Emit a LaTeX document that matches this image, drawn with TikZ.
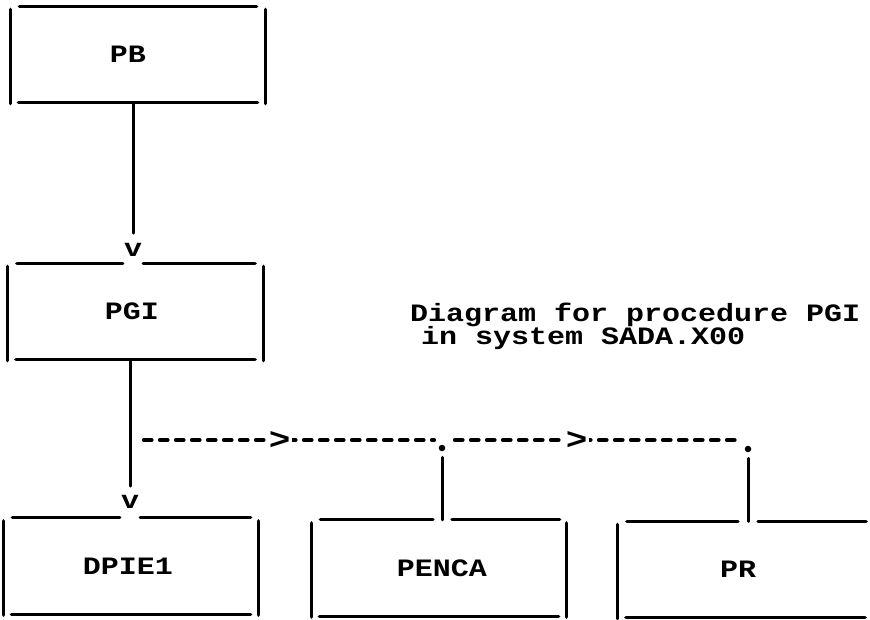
\documentclass[tikz,border=0pt]{standalone}
\usepackage{fontspec}
\newfontfamily\sadafont[FakeStretch=1.2]{Liberation Mono}
\begin{document}
\begin{tikzpicture}[x=1pt,y=-1pt,
  txt/.style={font={\sadafont\bfseries\fontsize{25pt}{20pt}\selectfont}, inner sep=0pt},
  sadabox/.style={txt, minimum width=255pt, minimum height=96pt},
  boxline/.style={line width=3.2pt, line cap=round},
  link/.style={line width=3pt, line cap=round},
  dashlink/.style={line width=4.2pt, line cap=round, dash pattern=on 7.5pt off 8.5pt},
  chev/.style={font={\sadafont\bfseries\fontsize{30pt}{30pt}\selectfont}, inner sep=0pt, fill=white, inner xsep=1.5pt},
  junction/.style={circle, fill=black, inner sep=0pt, minimum size=6.5pt}
]
\useasboundingbox[fill=white] (0,0) rectangle (870,619);

% boxes (labels nudged as in the printout)
\node[sadabox] (pb)    at (138,54.5)   {PB\kern20pt};
\node[sadabox] (pgi)   at (135.5,311.5) {PGI\kern7pt};
\node[sadabox] (dpie)  at (131,566)    {DPIE1\kern6pt};
\node[sadabox] (penca) at (439,568)    {\kern6pt PENCA};
\node[sadabox] (pr)    at (745.5,569.5) {PR\kern15pt};

% arrow marks and junction dots
\node[txt] (v1) at (133,250) {v};
\node[txt] (v2) at (130,502) {v};
\node[junction] (d1) at (442,448) {};
\node[junction] (d2) at (748,449) {};
\coordinate (j0) at (130,440);

% title
\node[txt, anchor=base west] (t1) at (410,321) {Diagram for procedure PGI};
\node[txt, anchor=base west] (t2) at (421,344) {in system SADA.X00};

% box sides and bottoms
\foreach \n in {pb,pgi,dpie,penca,pr}{
  \draw[boxline] ([yshift=-3pt]\n.north west) -- ([yshift=-1pt]\n.south west);
  \draw[boxline] ([yshift=-3pt]\n.north east) -- ([yshift=-1pt]\n.south east);
  \draw[boxline] ([xshift=8pt]\n.south west) -- ([xshift=-8pt]\n.south east);
}
% box tops
\draw[boxline] ([xshift=9pt]pb.north west) -- ([xshift=-9pt]pb.north east);
\draw[boxline] ([xshift=9pt]pgi.north west) -- ([xshift=-1pt]pgi.north -| v1.west);
\draw[boxline] ([xshift=1pt]pgi.north -| v1.east) -- ([xshift=-8pt]pgi.north east);
\draw[boxline] ([xshift=9pt]dpie.north west) -- ([xshift=-1pt]dpie.north -| v2.west);
\draw[boxline] ([xshift=1pt]dpie.north -| v2.east) -- ([xshift=-8pt]dpie.north east);
\draw[boxline] ([xshift=9pt]penca.north west) -- ([xshift=-9pt]penca.north -| d1);
\draw[boxline] ([xshift=10pt]penca.north -| d1) -- ([xshift=-7pt]penca.north east);
\draw[boxline] ([xshift=9pt]pr.north west) -- ([xshift=-10pt]pr.north -| d2);
\draw[boxline] ([xshift=10pt]pr.north -| d2) -- ([xshift=-7pt]pr.north east);

% connectors
\draw[link, shorten >=10pt] (pb.south -| v1) -- (v1.north);
\draw[link, shorten >=9pt] (pgi.south -| v2) -- (v2.north);
\draw[dashlink, shorten <=14pt, shorten >=8pt] (j0) -- node[chev, pos=.48] {>} (j0 -| d1);
\draw[dashlink, shorten <=13pt, shorten >=13pt] (j0 -| d1) -- node[chev, pos=.44] {>} (j0 -| d2);
\draw[link] ([yshift=-6pt]d1.south) -- (d1 |- penca.north);
\draw[link] ([yshift=-6pt]d2.south) -- (d2 |- pr.north);
\end{tikzpicture}
\end{document}
